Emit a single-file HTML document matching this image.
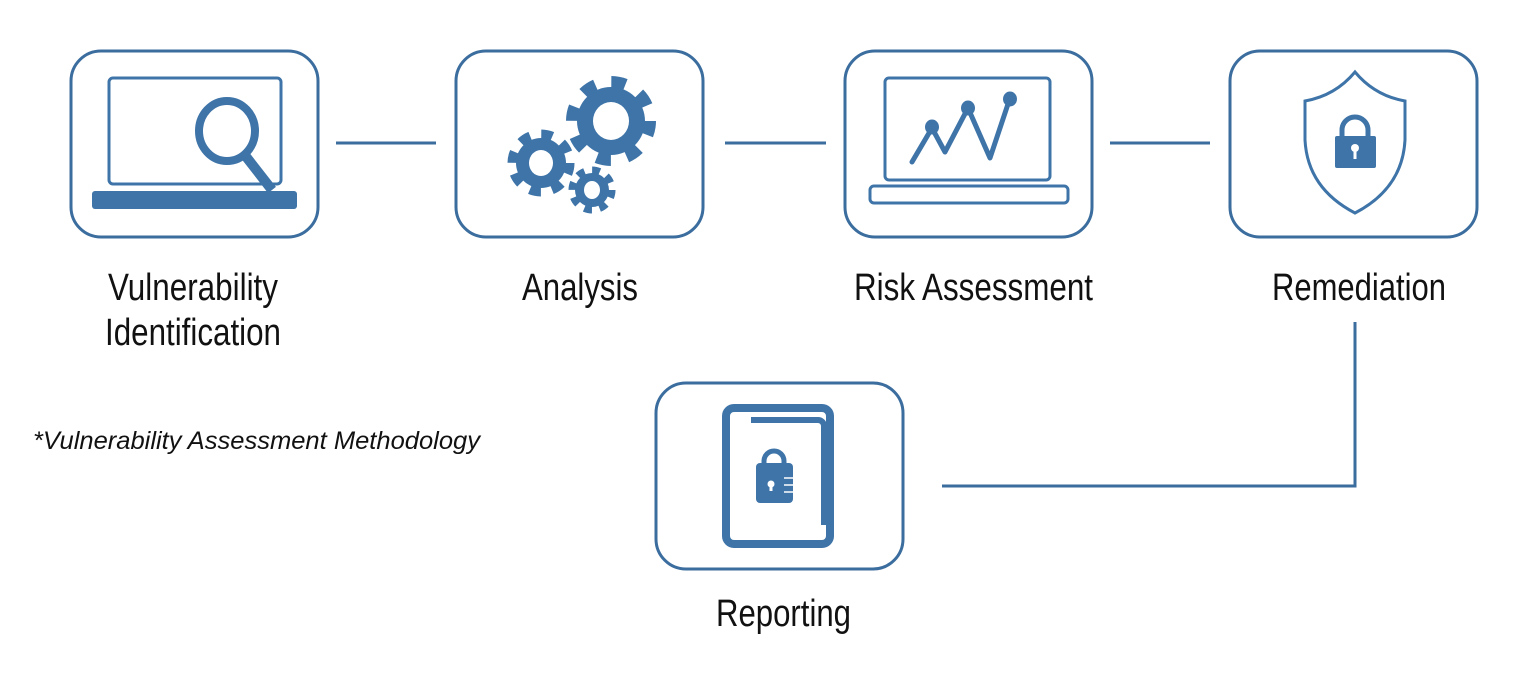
<!DOCTYPE html>
<html><head><meta charset="utf-8"><style>
html,body{margin:0;padding:0;background:#fff;}
svg{display:block;}
text{font-family:"Liberation Sans",sans-serif;fill:#111;}
</style></head><body>
<svg width="1528" height="688" viewBox="0 0 1528 688" xmlns="http://www.w3.org/2000/svg">
<g fill="none" stroke="#3b6d9e" stroke-width="3">
  <rect x="71" y="51" width="247" height="186" rx="30"/>
  <rect x="456" y="51" width="247" height="186" rx="30"/>
  <rect x="845" y="51" width="247" height="186" rx="30"/>
  <rect x="1230" y="51" width="247" height="186" rx="30"/>
  <rect x="656" y="383" width="247" height="186" rx="30"/>
  <line x1="336" y1="143" x2="436" y2="143"/>
  <line x1="725" y1="143" x2="826" y2="143"/>
  <line x1="1110" y1="143" x2="1210" y2="143"/>
  <polyline points="1355,322 1355,486 942,486"/>
</g>
<!-- box1 -->
<g stroke="#3e74a8" fill="none">
  <rect x="109" y="78" width="172" height="106" rx="4" stroke-width="3"/>
  <line x1="244" y1="154" x2="272" y2="190" stroke-width="10"/>
  <ellipse cx="227" cy="131" rx="28" ry="30" stroke-width="8" fill="#fff"/>
</g>
<rect x="92" y="191" width="205" height="18" rx="3" fill="#3e74a8"/>
<!-- gears -->
<g fill="#3e74a8">
  <circle cx="611" cy="121" r="34"/>
  <circle cx="611" cy="121" r="38" fill="none" stroke="#3e74a8" stroke-width="14" stroke-dasharray="14 15.85"/>
  <circle cx="541" cy="163" r="25"/>
  <circle cx="541" cy="163" r="28" fill="none" stroke="#3e74a8" stroke-width="11" stroke-dasharray="11 11"/>
  <circle cx="592" cy="190" r="17"/>
  <circle cx="592" cy="190" r="19" fill="none" stroke="#3e74a8" stroke-width="9" stroke-dasharray="7.5 7.42"/>
</g>
<g fill="#fff">
  <ellipse cx="611" cy="121" rx="18" ry="19"/>
  <ellipse cx="541" cy="163" rx="12" ry="13"/>
  <ellipse cx="592" cy="190" rx="8" ry="9"/>
</g>
<!-- box3 -->
<g fill="none" stroke="#3e74a8" stroke-width="3">
  <rect x="885" y="78" width="165" height="102" rx="4"/>
  <rect x="870" y="186" width="198" height="17" rx="4"/>
  <polyline points="912,162 932,128 945,152 968,108 990,158 1010,98" stroke-width="5" stroke-linejoin="round" stroke-linecap="round"/>
</g>
<g fill="#3e74a8"><ellipse cx="932" cy="127" rx="7" ry="7.5"/><ellipse cx="968" cy="108" rx="7" ry="7.5"/><ellipse cx="1010" cy="99" rx="7" ry="7.5"/></g>
<!-- shield -->
<path d="M1355,72 C1340,90 1322,98 1305,101 L1305,140 C1307,178 1330,200 1355,213 C1380,200 1403,178 1405,140 L1405,101 C1388,98 1370,90 1355,72 Z" fill="none" stroke="#3e74a8" stroke-width="3"/>
<path d="M1342,138 v-8 a13,13 0 0 1 26,0 v8" fill="none" stroke="#3e74a8" stroke-width="5"/>
<rect x="1335" y="136" width="41" height="32" rx="2" fill="#3e74a8"/>
<circle cx="1355" cy="148" r="4" fill="#fff"/><rect x="1353.5" y="148" width="3" height="11" fill="#fff"/>
<!-- report -->
<g fill="none" stroke="#3e74a8">
  <rect x="726" y="408" width="104" height="136" rx="8" stroke-width="8"/>
  <path d="M751,420 H818 a6,6 0 0 1 6,6 V525" stroke-width="6"/>
</g>
<path d="M764,464 v-3 a10,10 0 0 1 20,0 v3" fill="none" stroke="#3e74a8" stroke-width="5"/>
<rect x="756" y="463" width="37" height="40" rx="4" fill="#3e74a8"/>
<circle cx="771" cy="484" r="3.5" fill="#fff"/><rect x="769.5" y="484" width="3" height="7" fill="#fff"/>
<g stroke="#fff" stroke-width="1.5"><line x1="784" y1="478" x2="793" y2="478"/><line x1="784" y1="485" x2="793" y2="485"/><line x1="784" y1="492" x2="793" y2="492"/></g>
<!-- labels -->
<g font-size="38">
  <text x="108" y="300" textLength="170" lengthAdjust="spacingAndGlyphs">Vulnerability</text>
  <text x="105" y="345" textLength="176" lengthAdjust="spacingAndGlyphs">Identification</text>
  <text x="522" y="300" textLength="116" lengthAdjust="spacingAndGlyphs">Analysis</text>
  <text x="854" y="300" textLength="239" lengthAdjust="spacingAndGlyphs">Risk Assessment</text>
  <text x="1272" y="300" textLength="174" lengthAdjust="spacingAndGlyphs">Remediation</text>
  <text x="716" y="626" textLength="135" lengthAdjust="spacingAndGlyphs">Reporting</text>
</g>
<text x="33" y="449" font-size="25" font-style="italic" textLength="447" lengthAdjust="spacingAndGlyphs">*Vulnerability Assessment Methodology</text>
</svg>
</body></html>
